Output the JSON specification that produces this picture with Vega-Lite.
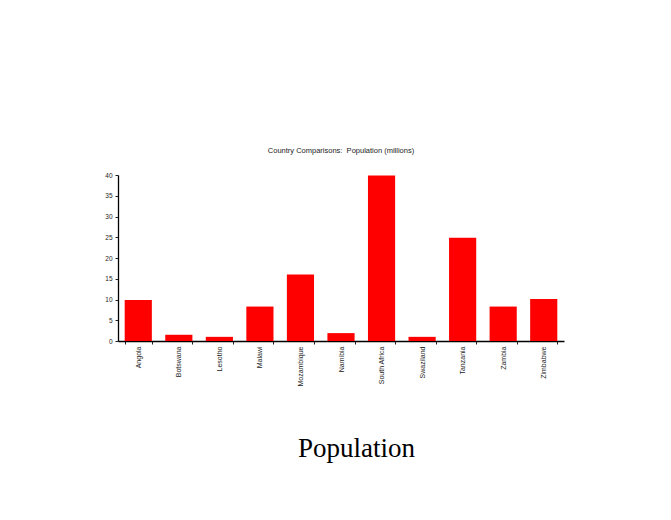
{
  "$schema": "https://vega.github.io/schema/vega-lite/v6.json",
  "autosize": {"type": "none"},
  "width": 446,
  "height": 166,
  "padding": {"left": 118, "top": 175, "right": 107, "bottom": 179},
  "background": "white",
  "title": {
    "text": "Country Comparisons:\u00a0 Population (millions)",
    "font": "Liberation Sans",
    "fontSize": 7.5,
    "fontWeight": "normal",
    "color": "#222",
    "anchor": "middle",
    "offset": 18
  },
  "data": {
    "values": [
      {"country": "Angola", "population": 9.9},
      {"country": "Botswana", "population": 1.5},
      {"country": "Lesotho", "population": 1.0},
      {"country": "Malawi", "population": 8.3},
      {"country": "Mozambique", "population": 16.0},
      {"country": "Namibia", "population": 1.9},
      {"country": "South Africa", "population": 39.9},
      {"country": "Swaziland", "population": 1.0},
      {"country": "Tanzania", "population": 24.9},
      {"country": "Zambia", "population": 8.3},
      {"country": "Zimbabwe", "population": 10.1}
    ]
  },
  "mark": {"type": "bar", "color": "#ff0000"},
  "encoding": {
    "x": {
      "field": "country",
      "type": "nominal",
      "sort": null,
      "scale": {"paddingInner": 0.33, "paddingOuter": 0.165},
      "axis": {
        "title": "Population",
        "titleFont": "Liberation Serif",
        "titleFontSize": 27,
        "titleFontWeight": "normal",
        "titleColor": "black",
        "titleX": 238,
        "titleY": 115,
        "titleAnchor": "middle",
        "titleAlign": "center",
        "titleBaseline": "alphabetic",
        "labelAngle": 270,
        "labelFont": "Liberation Sans",
        "labelFontSize": 7,
        "labelColor": "#222",
        "labelPadding": 2,
        "labelAlign": "right",
        "labelBaseline": "middle",
        "tickBand": "extent",
        "tickSize": 3,
        "tickColor": "#222",
        "domainColor": "black",
        "domainWidth": 1.3,
        "grid": false
      }
    },
    "y": {
      "field": "population",
      "type": "quantitative",
      "scale": {"domain": [0, 40], "nice": false},
      "axis": {
        "title": null,
        "values": [0, 5, 10, 15, 20, 25, 30, 35, 40],
        "labelFont": "Liberation Sans",
        "labelFontSize": 6.5,
        "labelColor": "#222",
        "labelPadding": 3,
        "tickSize": 3,
        "tickColor": "#222",
        "domainColor": "black",
        "domainWidth": 1.3,
        "grid": false
      }
    }
  },
  "config": {"view": {"stroke": null}}
}
